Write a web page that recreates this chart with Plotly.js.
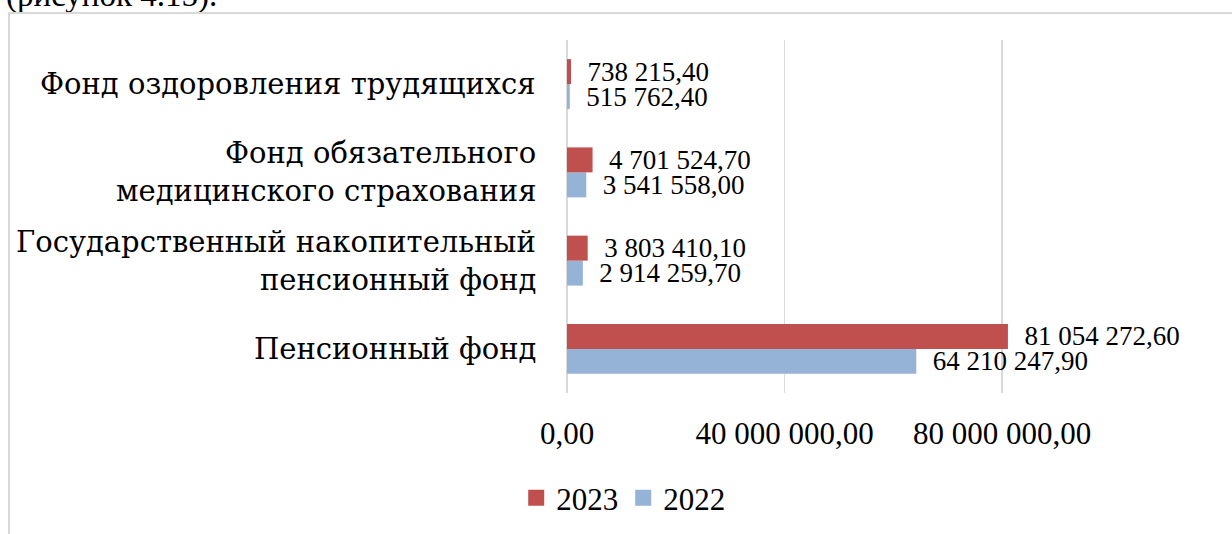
<!DOCTYPE html>
<html>
<head>
<meta charset="utf-8">
<script src="https://cdn.plot.ly/plotly-3.0.1.min.js"></script>
<style>
  html, body { margin:0; padding:0; background:#fff; overflow:hidden; width:1232px; height:534px; }
  #frame { position:absolute; left:8px; top:12px; width:1400px; height:700px; border:2px solid #d9d9d9; box-sizing:border-box; }
  #caption { position:absolute; left:6px; top:-20px; font-family:'Liberation Serif', 'DejaVu Serif', serif; font-size:33px; line-height:31px; color:#000; white-space:nowrap; }
  #chart { position:absolute; left:0; top:0; width:1232px; height:534px; }
</style>
</head>
<body>
<div id="caption">(рисунок 4.15).</div>
<div id="frame"></div>
<div id="chart"></div>
<script>
// Categories from bottom to top
const categories = [
  'Пенсионный фонд',
  'Государственный накопительный<br>пенсионный фонд',
  'Фонд обязательного<br>медицинского страхования',
  'Фонд оздоровления трудящихся'
];
const values2022 = [64210247.90, 2914259.70, 3541558.00, 515762.40];
const values2023 = [81054272.60, 3803410.10, 4701524.70, 738215.40];
const seriesNames = ['2023', '2022'];
const colors = { '2023': '#C0504D', '2022': '#95B3D7' };
const tickValues = [0, 40000000, 80000000];

const FONT = 'Liberation Serif, DejaVu Serif, serif';
const CYR_FONT = 'DejaVu Serif, serif';

const barBase = {
  type: 'bar', orientation: 'h', y: categories,
  texttemplate: '\u00a0\u00a0%{x:,.2f}', textposition: 'outside',
  textfont: { family: FONT, size: 27, color: '#000' },
  cliponaxis: false, constraintext: 'none', showlegend: false, hoverinfo: 'skip'
};

const traces = [
  Object.assign({}, barBase, { name: '2022', x: values2022, marker: { color: colors['2022'] } }),
  Object.assign({}, barBase, { name: '2023', x: values2023, marker: { color: colors['2023'] } })
];
// legend entries
seriesNames.forEach(n => {
  traces.push({ type: 'scatter', mode: 'markers', x: [null], y: [null], name: n,
    marker: { symbol: 'square', size: 18, color: colors[n] }, showlegend: true, hoverinfo: 'skip' });
});

const annotations = [];
const LINE_GAP = 38;
categories.forEach(c => {
  const lines = c.split('<br>');
  lines.forEach((ln, i) => {
    annotations.push({
      xref: 'paper', yref: 'y', x: 0, y: c, text: ln, showarrow: false,
      xanchor: 'right', yanchor: 'middle', xshift: -29,
      yshift: ((lines.length - 1) / 2 - i) * LINE_GAP,
      font: { family: CYR_FONT, size: 29, color: '#000' }
    });
  });
});

const layout = {
  width: 1232, height: 534,
  font: { family: FONT },
  margin: { l: 567, r: 121, t: 40, b: 141, pad: 0 },
  paper_bgcolor: 'rgba(0,0,0,0)', plot_bgcolor: 'rgba(0,0,0,0)',
  separators: ', ',
  barmode: 'group', bargap: 0.434, bargroupgap: 0,
  xaxis: {
    range: [0, 100000000], tickvals: tickValues, tickformat: ',.2f',
    showgrid: true, gridcolor: '#d9d9d9', gridwidth: 1.5,
    zeroline: true, zerolinecolor: '#d9d9d9', zerolinewidth: 1.5,
    showline: false, ticks: '', ticklabelstandoff: 19,
    tickfont: { family: FONT, size: 31, color: '#000' }, fixedrange: true
  },
  yaxis: {
    type: 'category', categoryorder: 'array', categoryarray: categories,
    range: [-0.5, 3.5], showticklabels: false, showgrid: false,
    zeroline: false, showline: false, ticks: '', fixedrange: true
  },
  showlegend: true,
  legend: {
    orientation: 'h', xref: 'container', yref: 'container',
    x: 0.419, xanchor: 'left', y: 0.067, yanchor: 'middle',
    font: { family: FONT, size: 31, color: '#000' },
    bgcolor: 'rgba(0,0,0,0)', traceorder: 'normal'
  },
  annotations: annotations
};

Plotly.newPlot('chart', traces, layout, { displayModeBar: false, staticPlot: true });
</script>
</body>
</html>
